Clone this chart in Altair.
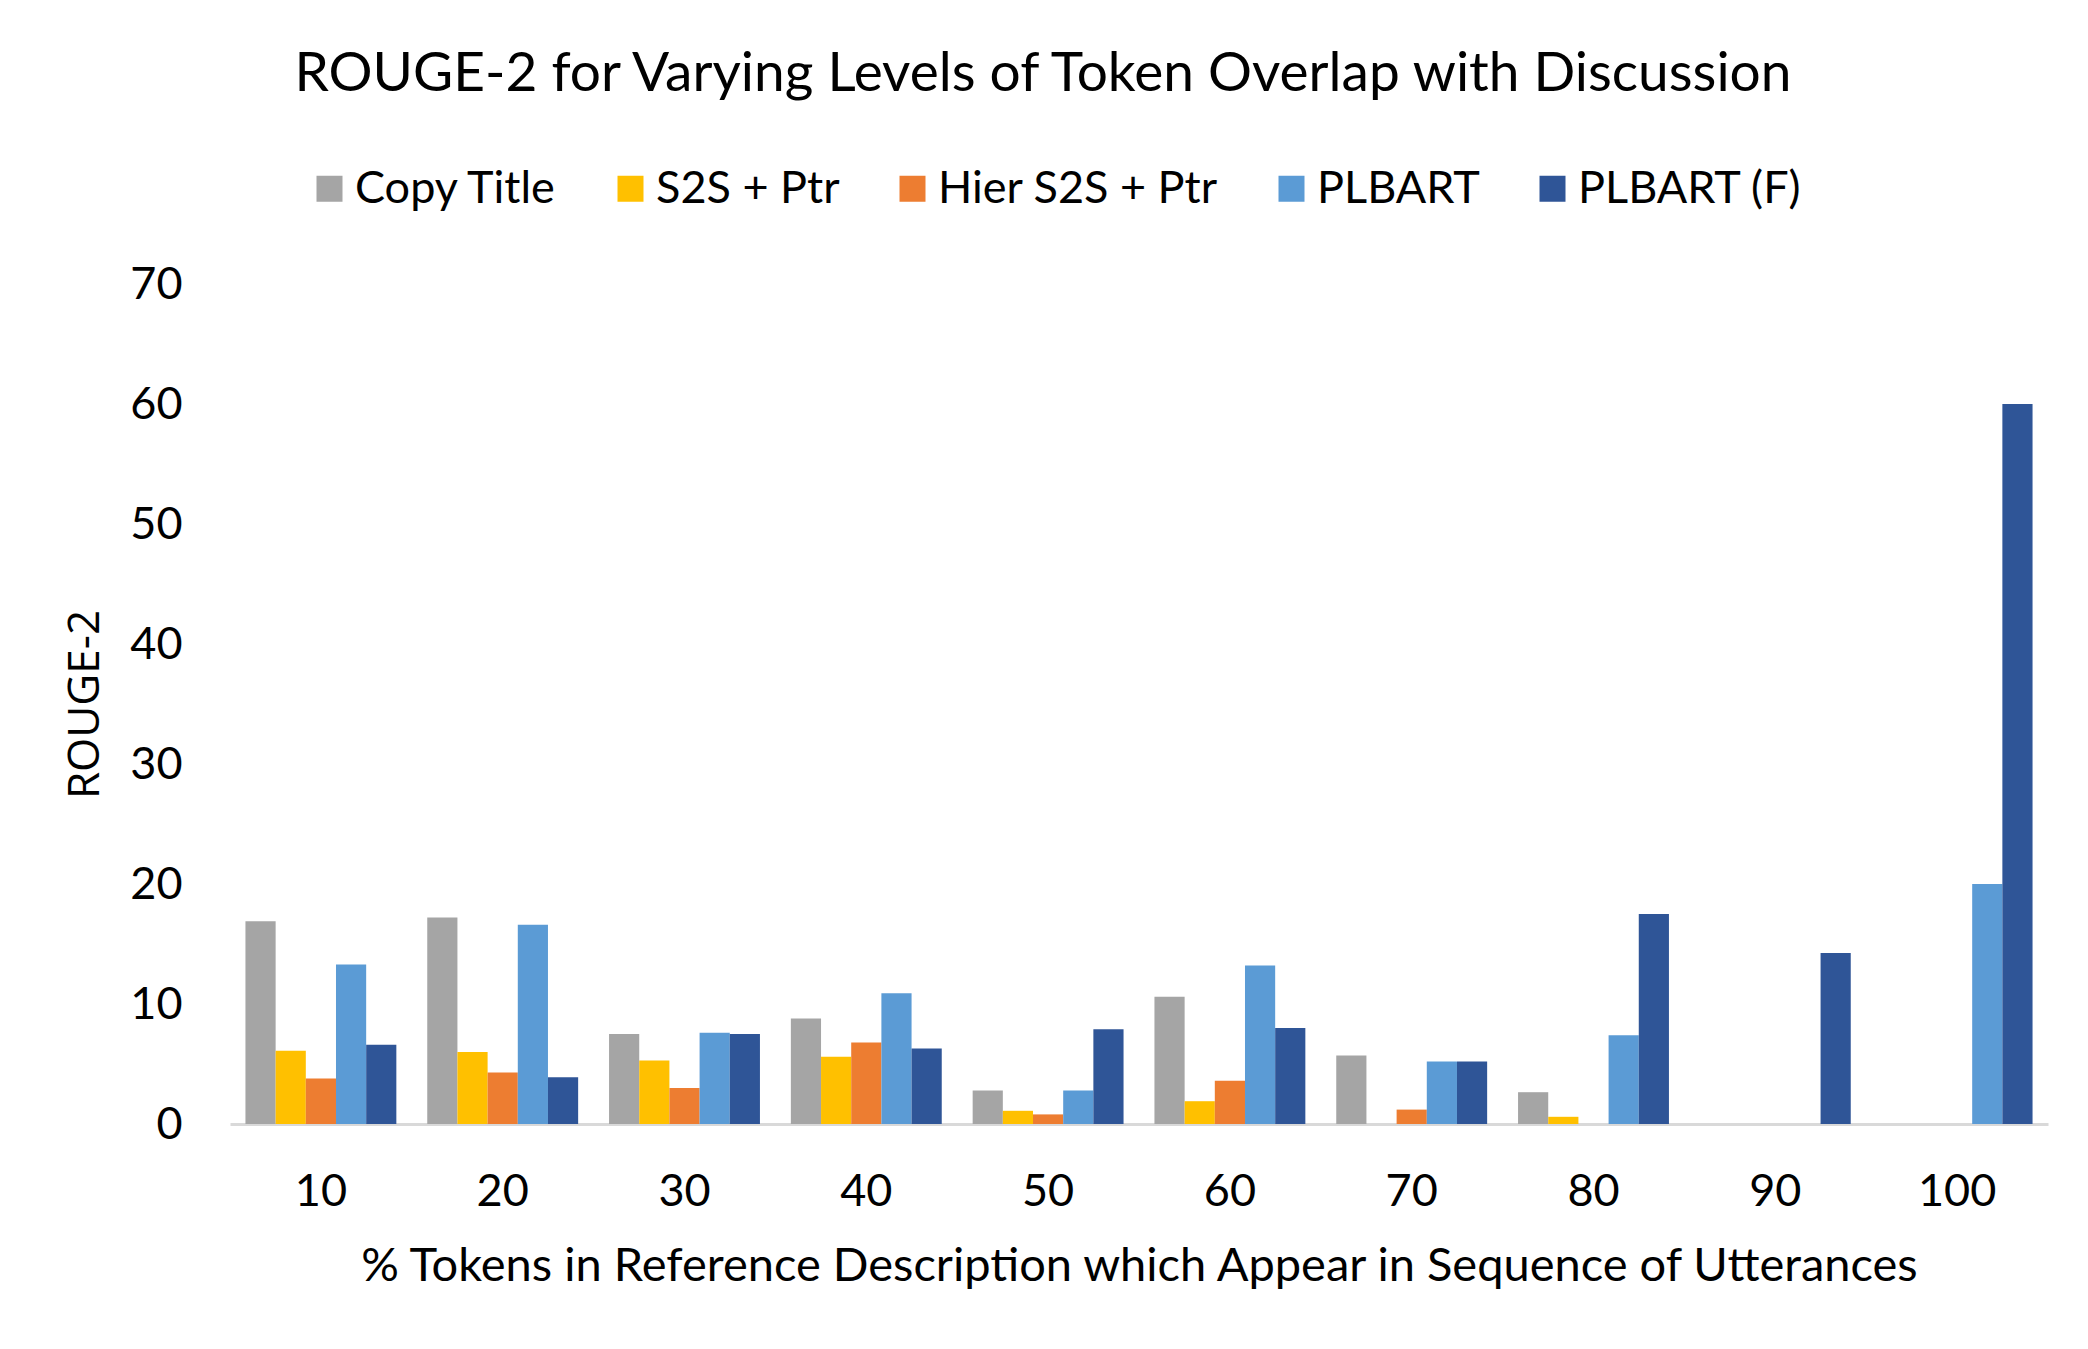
import altair as alt
import pandas as pd

categories = ["10", "20", "30", "40", "50", "60", "70", "80", "90", "100"]
series_names = ["Copy Title", "S2S + Ptr", "Hier S2S + Ptr", "PLBART", "PLBART (F)"]
series_colors = ["#A5A5A5", "#FFC000", "#ED7D31", "#5B9BD5", "#2F5597"]

copy_title = [16.9, 17.2, 7.5, 8.8, 2.8, 10.6, 5.7, 2.65, 0, 0]
s2s_ptr = [6.1, 6.0, 5.3, 5.6, 1.1, 1.9, 0, 0.6, 0, 0]
hier_s2s_ptr = [3.8, 4.3, 3.0, 6.8, 0.8, 3.6, 1.2, 0, 0, 0]
plbart = [13.3, 16.6, 7.6, 10.9, 2.8, 13.2, 5.2, 7.4, 0, 20.0]
plbart_f = [6.6, 3.9, 7.5, 6.3, 7.9, 8.0, 5.2, 17.5, 14.25, 60.0]

series_values = [copy_title, s2s_ptr, hier_s2s_ptr, plbart, plbart_f]

rows = []
for name, vals in zip(series_names, series_values):
    for c, v in zip(categories, vals):
        rows.append({"pct": c, "model": name, "rouge2": v})
df = pd.DataFrame(rows)

FONT = "Lato"

bars = alt.Chart(df).mark_bar().encode(
    x=alt.X(
        "pct:N",
        sort=categories,
        scale=alt.Scale(paddingInner=0.17, paddingOuter=0.085),
        axis=alt.Axis(
            title="% Tokens in Reference Description which Appear in Sequence of Utterances",
            labelAngle=0,
            labelFont=FONT,
            labelFontSize=45,
            labelColor="#000000",
            labelPadding=45,
            ticks=False,
            domainColor="#D9D9D9",
            domainWidth=3,
            titleFont=FONT,
            titleFontSize=47,
            titleFontWeight="normal",
            titleColor="#000000",
            titlePadding=29,
        ),
    ),
    xOffset=alt.XOffset("model:N", sort=series_names, scale=alt.Scale(paddingInner=0, paddingOuter=0)),
    y=alt.Y(
        "rouge2:Q",
        scale=alt.Scale(domain=[0, 70], nice=False),
        axis=alt.Axis(
            title="ROUGE-2",
            values=[0, 10, 20, 30, 40, 50, 60, 70],
            grid=False,
            domain=False,
            ticks=False,
            labelFont=FONT,
            labelFontSize=45,
            labelColor="#000000",
            labelPadding=48,
            titleFont="Open Sans",
            titleFontSize=44,
            titleFontWeight="normal",
            titleColor="#000000",
            titlePadding=22,
        ),
    ),
    color=alt.Color(
        "model:N",
        sort=series_names,
        scale=alt.Scale(domain=series_names, range=series_colors),
        legend=alt.Legend(
            title=None,
            orient="none",
            legendX=77,
            legendY=-118,
            direction="horizontal",
            symbolType="square",
            symbolSize=676,
            symbolStrokeWidth=0,
            labelFont=FONT,
            labelFontSize=45,
            labelColor="#000000",
            labelOffset=3,
            labelLimit=0,
            columnPadding=50,
        ),
    ),
)

chart = bars.properties(
    width=1818,
    height=840,
    background="white",
    title=alt.Title(
        "ROUGE-2 for Varying Levels of Token Overlap with Discussion",
        font=FONT,
        fontSize=55,
        fontWeight="normal",
        color="#000000",
        anchor="middle",
        offset=63,
        dx=-96,
    ),
    autosize=alt.AutoSizeParams(type="none"),
    padding={"left": 222, "top": 276, "right": 32, "bottom": 217},
).configure_view(strokeWidth=0)

chart.save("out.html", embed_options={"renderer": "svg", "actions": False})
